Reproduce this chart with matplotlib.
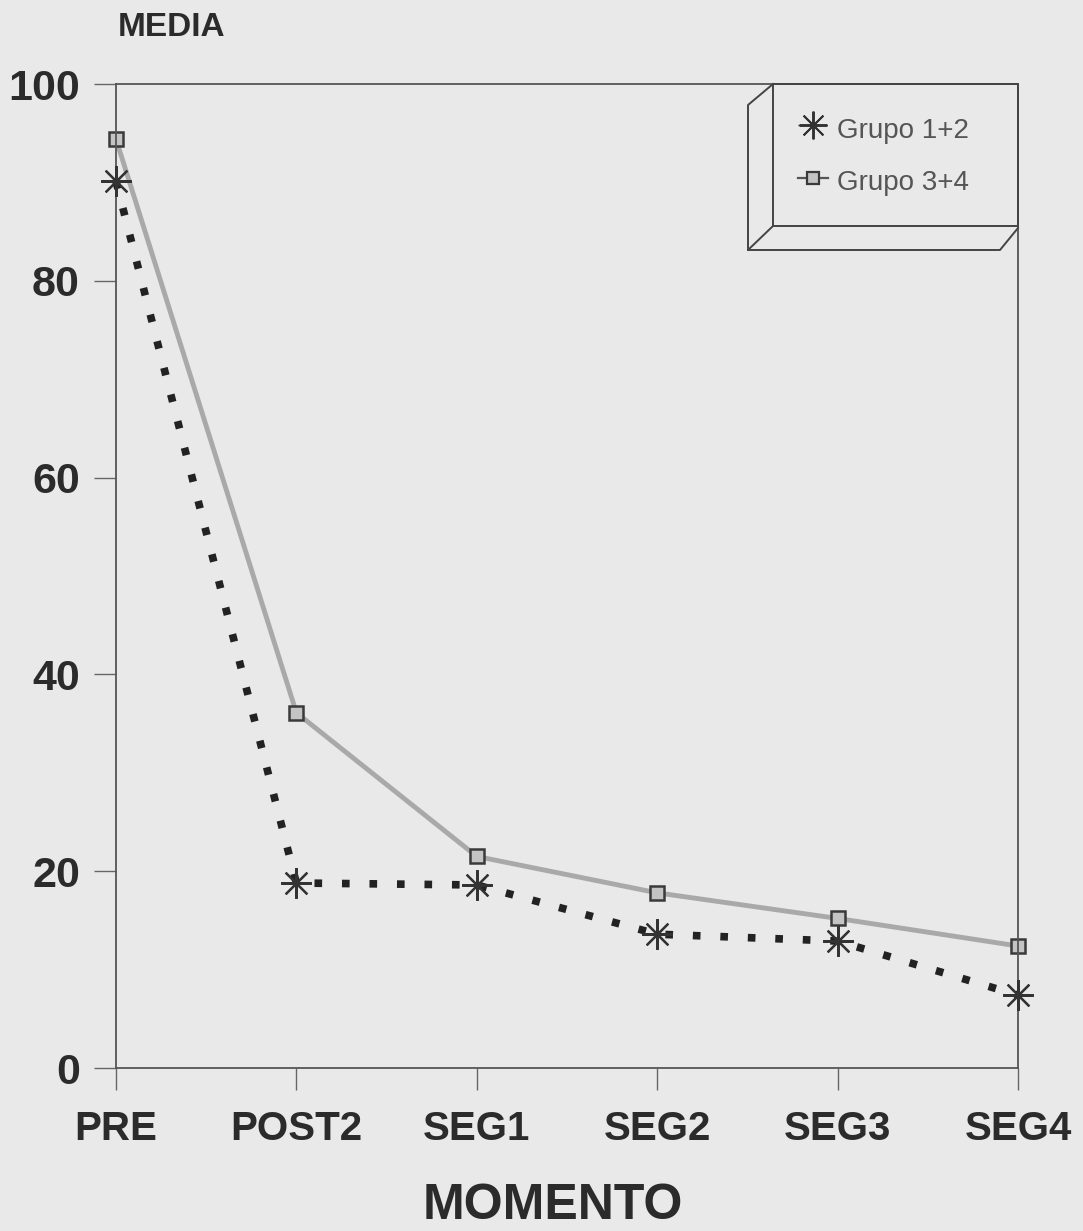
import numpy as np
import matplotlib.pyplot as plt

# mean score per time point
momentos = ['PRE', 'POST2', 'SEG1', 'SEG2', 'SEG3', 'SEG4']
grupo_12 = [90.1, 18.8, 18.6, 13.6, 12.9, 7.4]
grupo_34 = [94.4, 36.1, 21.5, 17.8, 15.2, 12.4]
yticks = [0, 20, 40, 60, 80, 100]

bg = '#e9e9e9'
ink = '#2b2b2b'

fig = plt.figure(figsize=(10.83, 12.31), dpi=100, facecolor=bg)
ax = fig.add_axes([116/1083, 1-1068/1231, 902/1083, 984/1231], facecolor=bg)

x = np.arange(len(momentos))

ax.plot(x, grupo_34, color='#a9a9a9', lw=3.5, zorder=2, clip_on=False,
        marker='s', ms=10, mfc='#c4c4c4', mec='#3a3a3a', mew=1.8)
ax.plot(x, grupo_12, color='#222222', lw=5.5, ls=(0, (1, 2.6)), zorder=3,
        clip_on=False)
ax.plot(x, grupo_12, ls='none', marker=(8, 2, 0), ms=22, mec='#333333',
        mew=1.6, zorder=4, clip_on=False)

ax.set_xlim(0, 5)
ax.set_ylim(0, 100)
ax.set_xticks(x)
ax.set_xticklabels(momentos)
ax.set_yticks(yticks)

for s in ['left', 'bottom', 'top', 'right']:
    ax.spines[s].set_color('#555555')
    ax.spines[s].set_linewidth(1.3)

ax.tick_params(axis='both', direction='out', color='#666666', width=1.0,
               length=16, labelcolor=ink)
ax.tick_params(axis='x', pad=14, labelsize=29)
ax.tick_params(axis='y', pad=10, labelsize=31)
for lab in ax.get_xticklabels() + ax.get_yticklabels():
    lab.set_fontweight('bold')
    lab.set_family('Liberation Sans')

fig.text(118/1083, 1-27/1231, 'MEDIA', fontsize=24, fontweight='bold',
         family='Liberation Sans', color=ink, va='center', ha='left')
fig.text(553/1083, 1-1206/1231, 'MOMENTO', fontsize=36, fontweight='bold',
         family='Liberation Sans', color=ink, va='center', ha='center')

# boxed legend with a bevelled edge, drawn in pixel space of the figure
def px(xp, yp):
    return xp/1083, 1-yp/1231

box_lines = [
    [(773, 84), (1018, 84), (1018, 226), (773, 226), (773, 84)],
    [(773, 84), (748, 105), (748, 250), (773, 226)],
    [(748, 250), (1000, 250), (1018, 228)],
]
for pts in box_lines:
    xs, ys = zip(*[px(a, b) for a, b in pts])
    fig.add_artist(plt.Line2D(xs, ys, color='#444444', lw=1.4))

fig.add_artist(plt.Line2D([px(798, 0)[0], px(828, 0)[0]], [px(0, 125)[1]] * 2,
                          color='#333333', lw=1.0, ls=(0, (1, 1))))
fig.add_artist(plt.Line2D([px(813, 0)[0]], [px(0, 125)[1]], marker=(8, 2, 0),
                          ms=20, mec='#333333', mew=1.4))
fig.add_artist(plt.Line2D([px(798, 0)[0], px(828, 0)[0]], [px(0, 178)[1]] * 2,
                          color='#555555', lw=1.6))
fig.add_artist(plt.Line2D([px(813, 0)[0]], [px(0, 178)[1]], marker='s',
                          ms=9, mfc='#c4c4c4', mec='#3a3a3a', mew=1.6))
fig.text(*px(837, 131), 'Grupo 1+2', fontsize=20, color='#555555',
         family='Liberation Sans', va='center', ha='left')
fig.text(*px(837, 183), 'Grupo 3+4', fontsize=20, color='#555555',
         family='Liberation Sans', va='center', ha='left')

fig.savefig('out.png', dpi=100, facecolor=bg)
